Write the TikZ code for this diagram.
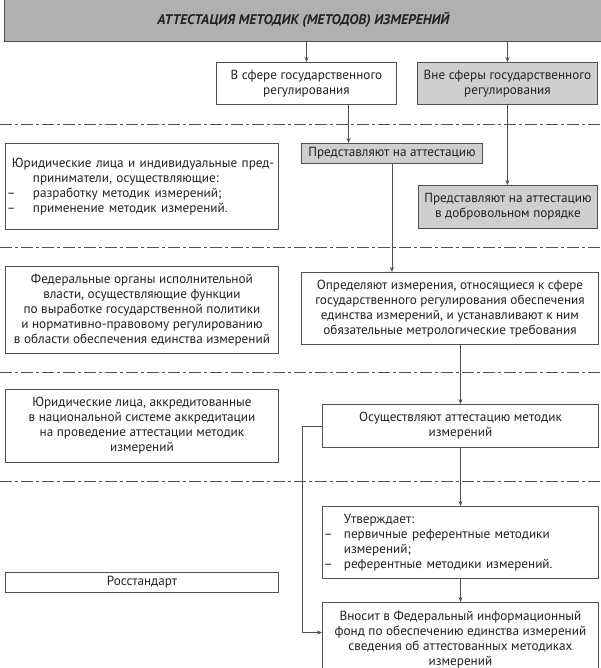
\documentclass[tikz,border=0pt]{standalone}
\usepackage{fontspec}
\setmainfont{PT Sans}
\usepackage{xcolor}
\usetikzlibrary{arrows.meta}
\definecolor{inkgray}{HTML}{222222}
\definecolor{framegray}{HTML}{505050}

\begin{document}
\begin{tikzpicture}[
    x=1pt, y=-1pt,
    box/.style={rectangle, draw=framegray, line width=0.9pt, fill=white, anchor=north west, align=center, inner xsep=2pt, inner ysep=1pt, font=\fontsize{13.2}{15}\selectfont, text=inkgray},
    shaded/.style={box, fill=gray!38},
    listbox/.style={box, align=left, inner xsep=1.5pt},
    titlebox/.style={rectangle, draw=framegray, line width=0.9pt, fill=gray!62, anchor=north west, font=\fontsize{14}{16}\selectfont\bfseries\itshape, text=inkgray},
    arr/.style={-{Stealth[length=5pt, width=4pt]}, line width=0.9pt, draw=framegray},
    sepline/.style={line width=0.9pt, draw=framegray, dash pattern=on 12pt off 3pt on 3pt off 3pt}
]
\useasboundingbox (0,0) rectangle (600,668);

% Title
\node[titlebox, minimum width=598pt, minimum height=44pt] (title) at (4,-3) {АТТЕСТАЦИЯ МЕТОДИК (МЕТОДОВ) ИЗМЕРЕНИЙ};

% Spheres
\node[box, minimum width=180pt, minimum height=42pt] (secA) at (216,62) {В сфере государственного\\регулирования};
\node[shaded, minimum width=180pt, minimum height=42pt] (secB) at (417,62) {Вне сферы государственного\\регулирования};

% Separators
\draw[sepline] (0,124) -- (600,124);
\draw[sepline] (0,247) -- (600,247);
\draw[sepline] (0,372) -- (600,372);
\draw[sepline] (0,481) -- (600,481);

% Left column: participants
\node[listbox, text width=270pt, minimum height=86pt] (legal) at (5,143) {\hspace*{5pt}Юридические лица и индивидуальные пред-\\
\hspace*{26pt}приниматели, осуществляющие:\\
\makebox[26pt][l]{--}разработку методик измерений;\\
\makebox[26pt][l]{--}применение методик измерений.};
\node[box, minimum width=273pt, minimum height=87pt] (federal) at (5,266) {Федеральные органы исполнительной\\власти, осуществляющие функции\\по выработке государственной политики\\и нормативно-правовому регулированию\\в области обеспечения единства измерений};
\node[box, minimum width=273pt, minimum height=73pt] (accred) at (5,389) {Юридические лица, аккредитованные\\в национальной системе аккредитации\\на проведение аттестации методик\\измерений};
\node[box, minimum width=273pt, minimum height=20pt] (rst) at (5,572) {Росстандарт};

% Right column: actions
\node[shaded, minimum width=181pt, minimum height=20pt] (submit) at (301,143) {Представляют на аттестацию};
\node[shaded, minimum width=179pt, minimum height=43pt] (volunt) at (418,185) {Представляют на аттестацию\\в добровольном порядке};
\node[box, minimum width=297pt, minimum height=72pt] (defin) at (301,272) {Определяют измерения, относящиеся к сфере\\государственного регулирования обеспечения\\единства измерений, и устанавливают к ним\\обязательные метрологические требования};
\node[box, minimum width=276pt, minimum height=43pt] (attest) at (322,404) {Осуществляют аттестацию методик\\измерений};
\node[listbox, text width=273pt, minimum height=72pt] (approve) at (322,506) {\hspace*{20pt}Утверждает:\\
\makebox[20pt][l]{--}первичные референтные методики\\
\hspace*{20pt}измерений;\\
\makebox[20pt][l]{--}референтные методики измерений.};
\node[box, minimum width=276pt, minimum height=74pt] (fund) at (322,602) {Вносит в Федеральный информационный\\фонд по обеспечению единства измерений\\сведения об аттестованных методиках\\измерений};

% Connectors
\draw[arr] (secA.north |- title.south) -- (secA.north);
\draw[arr] (secB.north |- title.south) -- (secB.north);
\draw[arr] (secA.-27) -- (secA.-27 |- submit.north);
\draw[arr] (secB.south) -- (secB.south |- volunt.north);
\draw[arr] (submit.south) -- (submit.south |- defin.north);
\draw[arr] (attest.north |- defin.south) -- (attest.north);
\draw[arr] (attest.south) -- (approve.north);
\draw[arr] (approve.south) -- (fund.north);
\draw[arr] (attest.west) -- ++(-20,0) |- ([yshift=7pt]fund.west);

\end{tikzpicture}
\end{document}
